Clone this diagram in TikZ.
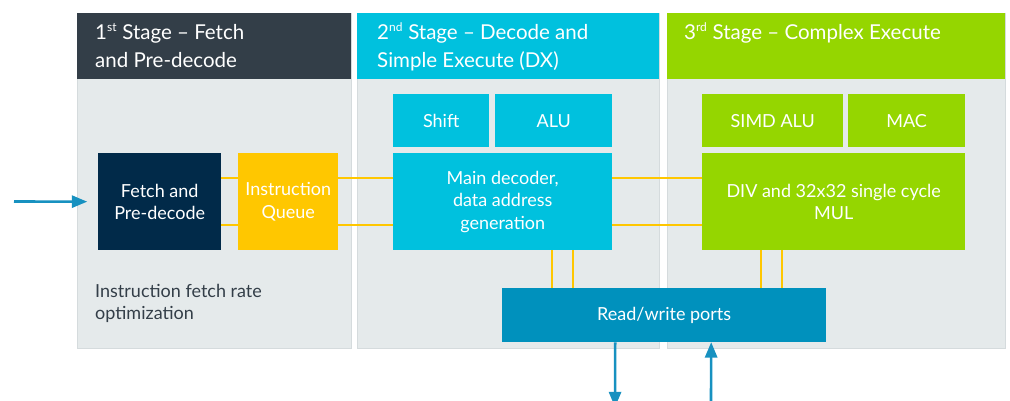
\documentclass[tikz,border=0pt]{standalone}
\usepackage{fontspec}
\setmainfont{Lato}
\usetikzlibrary{arrows}
\definecolor{slate}{HTML}{333E48}
\definecolor{panelgray}{HTML}{E5EAEB}
\definecolor{paneledge}{HTML}{D5DBDD}
\definecolor{cyanblue}{HTML}{00C1DE}
\definecolor{limegreen}{HTML}{95D600}
\definecolor{navy}{HTML}{012A49}
\definecolor{queue}{HTML}{FFC700}
\definecolor{port}{HTML}{0091BD}
\definecolor{flowblue}{HTML}{1791C0}
\newcommand{\ordsup}[1]{\textsuperscript{\fontsize{12}{12}\selectfont #1}}
\begin{document}
\begin{tikzpicture}[x=1pt,y=-1pt,
  panel/.style={anchor=north west,fill=panelgray,draw=paneledge,line width=0.8pt,minimum height=335,inner sep=0},
  head/.style={anchor=north west,minimum height=66,inner sep=0},
  title/.style={anchor=base west,inner sep=0,align=left,text=white,font=\fontsize{20.5}{28}\selectfont},
  unit/.style={anchor=north west,inner sep=0,align=center,text=white,font=\fontsize{18}{22.5}\selectfont},
  bus/.style={draw=queue,line width=2pt},
  flow/.style={draw=flowblue,line width=2.6pt,-triangle 45}]
			\useasboundingbox (0,0) rectangle (1010,401);
			\node[panel,minimum width=274] (p1) at (77,13) {};
			\node[panel,minimum width=302] (p2) at (357,13) {};
			\node[panel,minimum width=338] (p3) at (667,13) {};
			\node[head,fill=slate,minimum width=274] (h1) at (77,13) {};
			\node[head,fill=cyanblue,minimum width=302] (h2) at (357,13) {};
			\node[head,fill=limegreen,minimum width=338] (h3) at (667,13) {};
			\node[title] (t1) at (95,67.5) {1\ordsup{st} Stage \textendash{} Fetch\\and Pre-decode};
			\node[title] (t2) at (377,67.5) {2\ordsup{nd} Stage \textendash{} Decode and\\Simple Execute (DX)};
			\node[title] (t3) at (684,39.5) {3\ordsup{rd} Stage \textendash{} Complex Execute};
			\node[unit,fill=navy,minimum width=123,minimum height=97] (fetch) at (98,153) {Fetch and\\Pre-decode};
			\node[unit,fill=queue,minimum width=100,minimum height=97] (iq) at (238,153) {Instruction\\Queue};
			\node[unit,fill=cyanblue,minimum width=96,minimum height=53] (shift) at (393,94) {Shift};
			\node[unit,fill=cyanblue,minimum width=117,minimum height=53] (alu) at (495,94) {ALU};
			\node[unit,fill=cyanblue,minimum width=219,minimum height=97] (md) at (393,153) {Main decoder,\\data address\\generation};
			\node[unit,fill=limegreen,minimum width=141,minimum height=53] (simd) at (702,94) {SIMD ALU};
			\node[unit,fill=limegreen,minimum width=117,minimum height=53] (mac) at (848,94) {MAC};
			\node[unit,fill=limegreen,minimum width=263,minimum height=97] (div) at (702,153) {DIV and 32x32 single cycle\\MUL};
			\node[unit,fill=port,minimum width=324,minimum height=54] (rw) at (502,288) {Read/write ports};
			\node[anchor=base west,inner sep=0,align=left,text=slate,font=\fontsize{18}{22}\selectfont] (note) at (95,319) {Instruction fetch rate\\optimization};
			\coordinate (in) at (14,201.5);
			\coordinate (out) at (615,407);
			\coordinate (back) at (711,401);
			\foreach \dy in {23.5,-23.5} {
				\draw[bus] ([yshift=\dy pt]fetch.east) -- ([yshift=\dy pt]iq.west);
				\draw[bus] ([yshift=\dy pt]iq.east) -- ([yshift=\dy pt]md.west);
				\draw[bus] ([yshift=\dy pt]md.east) -- ([yshift=\dy pt]div.west);
			}
			\foreach \dx in {49.5,70.5}
				\draw[bus] ([xshift=\dx pt]md.south) -- ([xshift=\dx pt]md.south |- rw.north);
			\foreach \dx in {-72.5,-51.5}
				\draw[bus] ([xshift=\dx pt]div.south) -- ([xshift=\dx pt]div.south |- rw.north);
			\draw[flow,shorten >=11pt] (in) -- (fetch.west);
			\draw[flow] ([xshift=-49pt]rw.south) -- (out);
			\draw[flow] (back) -- ([xshift=47pt]rw.south);
		\end{tikzpicture}
\end{document}
